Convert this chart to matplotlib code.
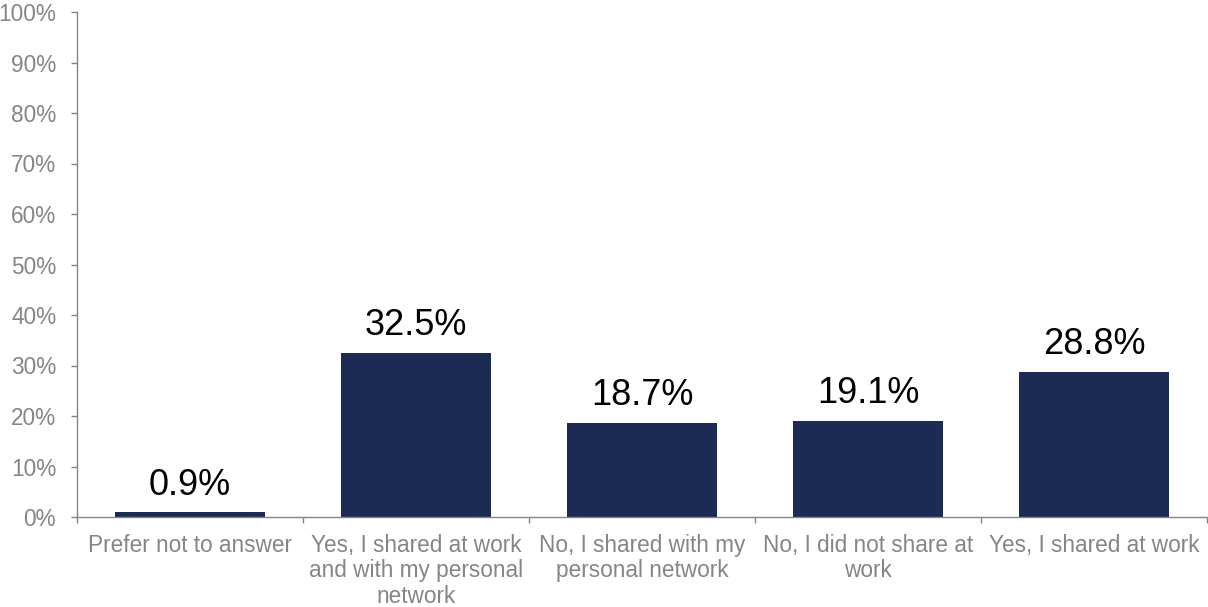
import matplotlib
matplotlib.use('Agg')
import matplotlib.pyplot as plt
from matplotlib.ticker import FixedLocator, PercentFormatter

categories = ["Prefer not to answer",
              "Yes, I shared at work\nand with my personal\nnetwork",
              "No, I shared with my\npersonal network",
              "No, I did not share at\nwork",
              "Yes, I shared at work"]
values = [0.9, 32.5, 18.7, 19.1, 28.8]

plt.rcParams['font.family'] = ['Liberation Sans', 'DejaVu Sans']

fig = plt.figure(figsize=(12.08, 6.07), dpi=100)
ax = fig.add_axes([77/1208, 90/607, 1130/1208, 505/607])

grey = '#858585'
x = range(len(values))
ax.bar(x, values, width=0.66, color='#1b2b54')

for i, v in enumerate(values):
    ax.annotate(f"{v:.1f}%", (i, v), xytext=(0, 7), textcoords='offset points',
                ha='center', va='bottom', fontsize=26, color='black')

ax.set_xlim(-0.5, len(values) - 0.5)
ax.set_ylim(0, 100)
ax.set_yticks(range(0, 101, 10))
ax.yaxis.set_major_formatter(PercentFormatter(decimals=0))

# category labels sit between boundary ticks
ax.xaxis.set_major_locator(FixedLocator([i - 0.5 for i in range(len(values) + 1)]))
ax.set_xticklabels([])
ax.set_xticks(list(x), minor=True)
ax.set_xticklabels(categories, minor=True, fontsize=16.3, color=grey, linespacing=1.15)
ax.tick_params(axis='x', which='minor', length=0, pad=12)
ax.tick_params(axis='x', which='major', length=4, color=grey, width=1)
ax.tick_params(axis='y', length=4, color=grey, width=1, labelsize=16.3, labelcolor=grey, pad=11)

for s in ['top', 'right']:
    ax.spines[s].set_visible(False)
for s in ['left', 'bottom']:
    ax.spines[s].set_color(grey)
    ax.spines[s].set_linewidth(1)

fig.savefig('out.png', dpi=100)
